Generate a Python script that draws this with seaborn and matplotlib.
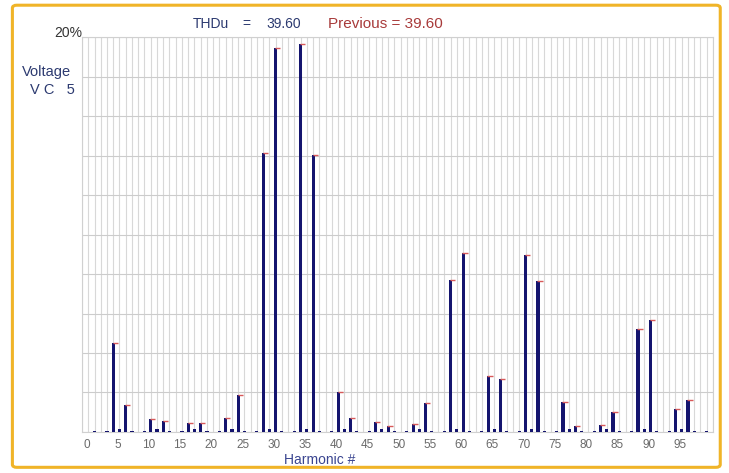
import matplotlib
matplotlib.use("Agg")
import matplotlib.pyplot as plt
import numpy as np
import pandas as pd
import seaborn as sns
from matplotlib.patches import FancyBboxPatch

# harmonic spectrum, values in % of fundamental
main_h = [5, 7, 11, 13, 17, 19, 23, 25, 29, 31, 35, 37, 41, 43, 47, 49,
          53, 55, 59, 61, 65, 67, 71, 73, 77, 79, 83, 85, 89, 91, 95, 97]
main_v = [4.51, 1.37, 0.64, 0.56, 0.44, 0.44, 0.69, 1.88, 14.11, 19.44, 19.64, 14.01,
          2.01, 0.73, 0.52, 0.32, 0.39, 1.46, 7.72, 9.07, 2.81, 2.69, 8.98, 7.66,
          1.51, 0.30, 0.36, 1.00, 5.21, 5.69, 1.17, 1.62]

# tiny residuals at the even harmonics
even_h = [2, 4, 6, 8, 10, 12, 14, 16, 18, 20, 22, 24, 26, 28, 30, 32, 34, 36, 38, 40,
          42, 44, 46, 48, 50, 52, 54, 56, 58, 60, 62, 64, 66, 68, 70, 72, 74, 76, 78, 80,
          82, 84, 86, 88, 90, 92, 94, 96, 98, 100]
even_v = [0.05, 0.05, 0.15, 0.05, 0.05, 0.15, 0.05, 0.05, 0.15, 0.05, 0.05, 0.15, 0.05,
          0.05, 0.15, 0.05, 0.05, 0.15, 0.05, 0.05, 0.15, 0.05, 0.05, 0.15, 0.05, 0.05,
          0.15, 0.05, 0.05, 0.15, 0.05, 0.05, 0.15, 0.05, 0.05, 0.15, 0.05, 0.05, 0.15,
          0.05, 0.05, 0.15, 0.05, 0.05, 0.15, 0.05, 0.05, 0.15, 0.05, 0.05]

x_ticks = [0, 5, 10, 15, 20, 25, 30, 35, 40, 45, 50, 55, 60, 65, 70, 75, 80, 85, 90, 95]

thd = 39.60
previous = 39.60

df = pd.DataFrame({"h": main_h + even_h, "v": main_v + even_v}).sort_values("h")

sns.set_style("white")
plt.rcParams["font.family"] = ["Liberation Sans", "DejaVu Sans"]

fig = plt.figure(figsize=(7.29, 4.73), dpi=100)
ax = fig.add_axes([0.1125, 0.0867, 0.8655, 0.835])

sns.barplot(data=df, x="h", y="v", native_scale=True, width=0.5,
            color="#14146e", saturation=1, linewidth=0, ax=ax, zorder=3)

# "previous" markers: short red dash at each bar top
ax.hlines(main_v, np.array(main_h) - 0.1, np.array(main_h) + 0.75,
          color="#d85a5a", lw=1.0, zorder=4)

ax.set_xlim(0, 101)
ax.set_ylim(0, 20)
ax.set_xticks([t + 0.7 for t in x_ticks])
ax.set_xticklabels([str(t) for t in x_ticks], color="#6a6a6a", fontsize=8.5)
ax.set_xticks(np.arange(0, 102, 1), minor=True)
ax.set_yticks(np.arange(0, 21, 2))
ax.set_yticklabels([])
ax.tick_params(axis="both", which="both", length=0, pad=5)
ax.grid(False, which="major", axis="x")
ax.grid(True, which="minor", axis="x", color="#d8d8d8", lw=0.8, zorder=0)
ax.grid(True, which="major", axis="y", color="#cccccc", lw=0.8, zorder=0)
for s in ax.spines.values():
    s.set_color("#d0d0d0")
    s.set_linewidth(0.8)
ax.set_xlabel("Harmonic #", color="#3a4590", fontsize=10)
ax.xaxis.set_label_coords(0.377, -0.052)
ax.set_ylabel("")

fig.text(0.113, 0.93, "20%", ha="right", va="center", fontsize=10, color="#333333")
fig.text(0.030, 0.848, "Voltage", ha="left", va="center", fontsize=10.5, color="#2c3a70")
fig.text(0.041, 0.81, "V C   5", ha="left", va="center", fontsize=10.5, color="#2c3a70")
fig.text(0.265, 0.950, "THDu", ha="left", va="center", fontsize=10, color="#2c3a70")
fig.text(0.332, 0.950, "=", ha="left", va="center", fontsize=10, color="#2c3a70")
fig.text(0.366, 0.950, f"{thd:.2f}", ha="left", va="center", fontsize=10, color="#2c3a70")
fig.text(0.450, 0.950, f"Previous = {previous:.2f}", ha="left", va="center",
         fontsize=11, color="#a83a3a")

border = FancyBboxPatch((0.017, 0.012), 0.971, 0.977, transform=fig.transFigure,
                        boxstyle="round,pad=0,rounding_size=0.006",
                        fill=False, edgecolor="#f0b428", lw=2.2)
fig.patches.append(border)

fig.savefig("out.png", dpi=100, facecolor="white")
